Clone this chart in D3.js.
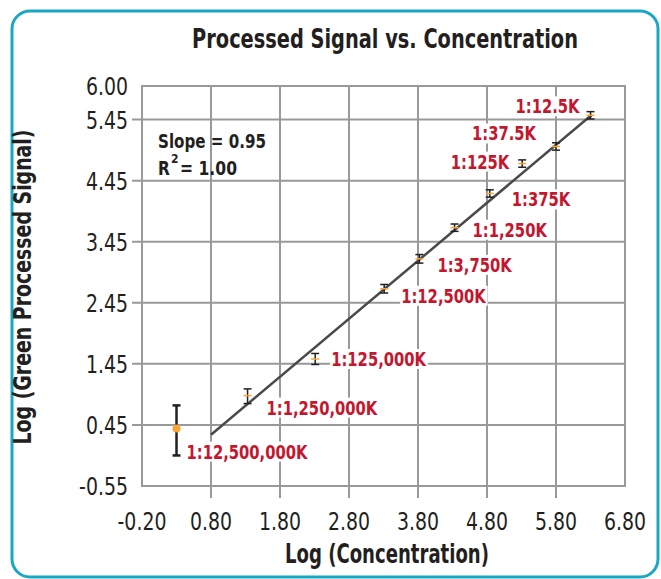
<!DOCTYPE html>
<html>
<head>
<meta charset="utf-8">
<script src="https://cdn.jsdelivr.net/npm/d3@7.9.0/dist/d3.min.js"></script>
<style>
  body { margin: 0; background: #fff; }
  svg text { font-family: 'Liberation Sans Narrow', 'DejaVu Sans Condensed', Roboto, sans-serif; }
</style>
</head>
<body>
<svg id="chart" width="661" height="579"></svg>
<script>
// Data
const dilutions = ['1:12,500,000K', '1:1,250,000K', '1:125,000K', '1:12,500K', '1:3,750K',
                   '1:1,250K', '1:375K', '1:125K', '1:37.5K', '1:12.5K'];
const logConc   = [0.30, 1.33, 2.31, 3.31, 3.82, 4.33, 4.84, 5.31, 5.80, 6.30];
const logSignal = [0.39, 0.93, 1.53, 2.68, 3.17, 3.68, 4.24, 4.73, 5.01, 5.52];
const errUp     = [0.38, 0.11, 0.09, 0.07, 0.07, 0.06, 0.06, 0.06, 0.06, 0.06];
const errDown   = [0.44, 0.13, 0.09, 0.07, 0.07, 0.06, 0.06, 0.06, 0.06, 0.06];
const fitLine   = [[0.80, 0.29], [6.32, 5.53]];
const xTicks = [-0.2, 0.8, 1.8, 2.8, 3.8, 4.8, 5.8, 6.8];
const yTicks = [-0.55, 0.45, 1.45, 2.45, 3.45, 4.45, 5.45, 6.00];

// label placement relative to each point (pixels)
const labelDx = [10, 19, 16, 17, 18, 18, 22, -13, -20, -11];
const labelDy = [23, 12, 0, 7, 6, 2, 6, -2, -13, -9];

const svg = d3.select('#chart');

const x = d3.scaleLinear().domain([-0.2, 6.8]).range([142, 625]);
const y = d3.scaleLinear().domain([-0.55, 6.0]).range([486, 86]);

const fmt = d => d3.format('.2f')(d).replace('\u2212', '-');

// squash the fallback font to the narrow look of the original
function fitWidth(sel, w) {
  sel.attr('textLength', w).attr('lengthAdjust', 'spacingAndGlyphs');
}
function squeeze(sel, f) {
  sel.each(function () {
    const w = this.getComputedTextLength();
    d3.select(this).attr('textLength', w * f).attr('lengthAdjust', 'spacingAndGlyphs');
  });
}

// outer rounded frame
svg.append('rect')
  .attr('x', 12).attr('y', 11).attr('width', 646).attr('height', 566)
  .attr('rx', 18)
  .attr('fill', 'none').attr('stroke', '#19a7c4').attr('stroke-width', 3);

// title (scaled horizontally instead of textLength)
const title = svg.append('text')
  .attr('text-anchor', 'middle')
  .attr('font-size', 27).attr('font-weight', 700).attr('fill', '#231f20')
  .text('Processed Signal vs. Concentration');
const tw = title.node().getComputedTextLength();
title.attr('transform', `translate(385,48) scale(${386 / tw},1)`);

const grid = svg.append('g').attr('stroke', '#999').attr('stroke-width', 2);

// horizontal grid + ticks
yTicks.filter(d => d > -0.55 && d < 6.0).forEach(d => {
  grid.append('line')
    .attr('x1', x(-0.2) - 10).attr('x2', x(6.8))
    .attr('y1', y(d)).attr('y2', y(d));
});
// vertical grid + ticks
xTicks.filter(d => d > -0.2 && d < 6.8).forEach(d => {
  grid.append('line')
    .attr('x1', x(d)).attr('x2', x(d))
    .attr('y1', y(6.0)).attr('y2', y(-0.55) + 12);
});
// plot border
grid.append('rect')
  .attr('x', x(-0.2)).attr('y', y(6.0))
  .attr('width', x(6.8) - x(-0.2)).attr('height', y(-0.55) - y(6.0))
  .attr('fill', 'none');

// tick labels
svg.append('g').selectAll('text').data(yTicks).join('text')
  .attr('x', 128).attr('y', d => y(d) + 9)
  .attr('text-anchor', 'end')
  .attr('font-size', 25).attr('fill', '#231f20')
  .text(fmt)
  .call(squeeze, 0.84);

svg.append('g').selectAll('text').data(xTicks).join('text')
  .attr('x', d => x(d)).attr('y', 530)
  .attr('text-anchor', 'middle')
  .attr('font-size', 25).attr('fill', '#231f20')
  .text(fmt)
  .call(squeeze, 0.84);

// axis titles
svg.append('text')
  .attr('x', 387).attr('y', 563)
  .attr('text-anchor', 'middle')
  .attr('font-size', 26).attr('font-weight', 700).attr('fill', '#231f20')
  .text('Log (Concentration)')
  .call(fitWidth, 204);

svg.append('text')
  .attr('transform', 'translate(31,287) rotate(-90)')
  .attr('text-anchor', 'middle')
  .attr('font-size', 25).attr('font-weight', 700).attr('fill', '#231f20')
  .text('Log (Green Processed Signal)')
  .call(fitWidth, 315);

// fit line
svg.append('line')
  .attr('x1', x(fitLine[0][0])).attr('y1', y(fitLine[0][1]))
  .attr('x2', x(fitLine[1][0])).attr('y2', y(fitLine[1][1]))
  .attr('stroke', '#4a4a4a').attr('stroke-width', 2.5);

// slope annotation
const ann = svg.append('g').attr('font-size', 20).attr('font-weight', 700).attr('fill', '#231f20');
ann.append('text').attr('x', 158).attr('y', 148).text('Slope = 0.95').call(fitWidth, 108);
ann.append('text').attr('x', 158).attr('y', 175).text('R').call(squeeze, 0.85);
ann.append('text').attr('x', 171).attr('y', 163).attr('font-size', 12).text('2');
ann.append('text').attr('x', 180).attr('y', 175).text('= 1.00').call(fitWidth, 57);

// points with error bars
const pts = logConc.map((c, i) => ({ c, s: logSignal[i], up: errUp[i], dn: errDown[i], i }));

const pg = svg.append('g').selectAll('g').data(pts).join('g');
pg.append('line')
  .attr('x1', d => x(d.c)).attr('x2', d => x(d.c))
  .attr('y1', d => y(d.s + d.up)).attr('y2', d => y(d.s - d.dn))
  .attr('stroke', '#231f20').attr('stroke-width', d => d.i === 0 ? 2.5 : 1.5);
pg.append('line')
  .attr('x1', d => x(d.c) - 4).attr('x2', d => x(d.c) + 4)
  .attr('y1', d => y(d.s + d.up)).attr('y2', d => y(d.s + d.up))
  .attr('stroke', '#231f20').attr('stroke-width', d => d.i === 0 ? 2.5 : 1.5);
pg.append('line')
  .attr('x1', d => x(d.c) - 4).attr('x2', d => x(d.c) + 4)
  .attr('y1', d => y(d.s - d.dn)).attr('y2', d => y(d.s - d.dn))
  .attr('stroke', '#231f20').attr('stroke-width', d => d.i === 0 ? 2.5 : 1.5);
pg.filter(d => d.i === 0).append('circle')
  .attr('cx', d => x(d.c)).attr('cy', d => y(d.s)).attr('r', 4)
  .attr('fill', '#f9a533');
pg.filter(d => d.i > 0).append('line')
  .attr('x1', d => x(d.c) - 4).attr('x2', d => x(d.c) + 4)
  .attr('y1', d => y(d.s)).attr('y2', d => y(d.s))
  .attr('stroke', '#f9a533').attr('stroke-width', 1.5);

// dilution labels with white backing
const lg = svg.append('g').selectAll('g').data(pts).join('g');
const lt = lg.append('text')
  .attr('x', d => x(d.c) + labelDx[d.i])
  .attr('y', d => y(d.s) + labelDy[d.i] + 7)
  .attr('text-anchor', d => labelDx[d.i] < 0 ? 'end' : 'start')
  .attr('font-size', 20).attr('font-weight', 700).attr('fill', '#c4162e')
  .text(d => dilutions[d.i])
  .call(squeeze, 0.82);
lt.each(function () {
  const b = this.getBBox();
  d3.select(this.parentNode).insert('rect', 'text')
    .attr('x', b.x - 1).attr('y', b.y + 2)
    .attr('width', b.width + 2).attr('height', b.height - 4)
    .attr('fill', '#fff');
});
</script>
</body>
</html>
